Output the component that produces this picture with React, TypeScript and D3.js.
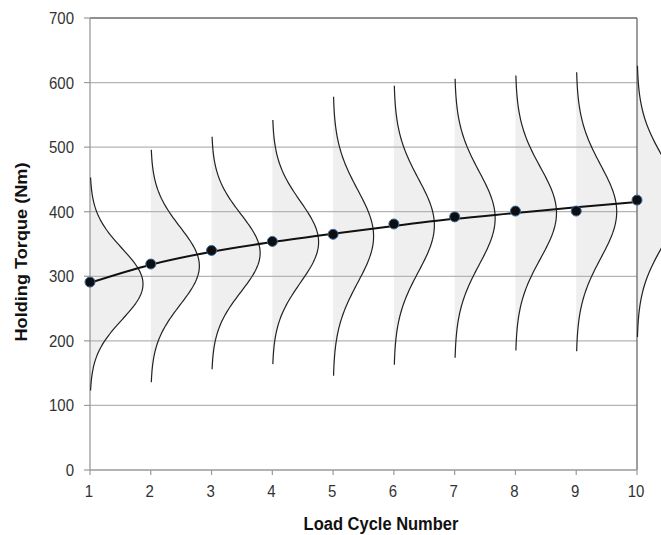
import React from "react";
import * as d3 from "d3";

const cycles = [1, 2, 3, 4, 5, 6, 7, 8, 9, 10];
const measured = [291, 319, 340, 354, 365, 381, 392, 401, 401, 418];
const trend = [290, 318, 338, 353, 366, 378, 389, 398, 407, 415];
const distMean = [288, 316, 336, 353, 362, 379, 390, 398, 400, 416];
const distSigma = [55, 60, 60, 63, 72, 72, 72, 71, 72, 70];
const yTicks = [0, 100, 200, 300, 400, 500, 600, 700];
const xTicks = [1, 2, 3, 4, 5, 6, 7, 8, 9, 10];

const W = 661, H = 535;
const M = { left: 90, right: 637, top: 18, bottom: 470 };

export default function App() {
  const x = d3.scaleLinear().domain([1, 10]).range([M.left, M.right]);
  const y = d3.scaleLinear().domain([0, 700]).range([M.bottom, M.top]);
  const K = 2915; // px * value-units scale of each density
  const font = "Liberation Sans, Arial, sans-serif";

  const dists = cycles.map((c, i) => {
    const mu = distMean[i], s = distSigma[i];
    const amp = K / s;
    const vals = d3.range(-3, 3.0001, 0.05).map((z) => mu + z * s);
    const pts = vals.map((v) => ({
      v,
      w: amp * Math.exp(-((v - mu) ** 2) / (2 * s * s)),
    }));
    const area = d3
      .area<{ v: number; w: number }>()
      .y((d) => y(d.v))
      .x0(() => x(c))
      .x1((d) => x(c) + d.w)(pts);
    const line = d3
      .line<{ v: number; w: number }>()
      .y((d) => y(d.v))
      .x((d) => x(c) + d.w)(pts);
    return { area, line };
  });

  const trendPath = d3
    .line<number>()
    .x((_, i) => x(cycles[i]))
    .y((d) => y(d))
    .curve(d3.curveMonotoneX)(trend);

  return (
    <div style={{ position: "absolute", left: 0, top: 0 }}>
      <svg width={W} height={H} style={{ display: "block", background: "#fff" }}>
        {dists.map((d, i) => (
          <path key={"a" + i} d={d.area || ""} fill="#efefef" stroke="none" />
        ))}
        {yTicks.filter((t) => t > 0 && t < 700).map((t) => (
          <line key={"g" + t} x1={M.left} x2={M.right} y1={y(t)} y2={y(t)} stroke="#b4b4b4" strokeWidth={1.2} />
        ))}
        <line x1={M.left} x2={M.right} y1={M.top} y2={M.top} stroke="#6a6a6a" strokeWidth={1.3} />
        <line x1={M.right} x2={M.right} y1={M.top} y2={M.bottom} stroke="#6a6a6a" strokeWidth={1.3} />
        <line x1={M.left} x2={M.left} y1={M.top} y2={M.bottom} stroke="#9a9a9a" strokeWidth={1.3} />
        <line x1={M.left} x2={M.right} y1={M.bottom} y2={M.bottom} stroke="#9a9a9a" strokeWidth={1.3} />
        {yTicks.map((t) => (
          <g key={"yt" + t}>
            <line x1={M.left - 6} x2={M.left} y1={y(t)} y2={y(t)} stroke="#9a9a9a" strokeWidth={1.2} />
            <text
              transform={`translate(${M.left - 16},${y(t) + 6}) scale(1,1.1)`}
              textAnchor="end"
              fontFamily={font}
              fontSize={15}
              fill="#333"
            >
              {t}
            </text>
          </g>
        ))}
        {xTicks.map((t) => (
          <g key={"xt" + t}>
            <line x1={x(t)} x2={x(t)} y1={M.bottom} y2={M.bottom + 5} stroke="#9a9a9a" strokeWidth={1.2} />
            <text
              transform={`translate(${x(t) - 1},${M.bottom + 27}) scale(1,1.1)`}
              textAnchor="middle"
              fontFamily={font}
              fontSize={15}
              fill="#333"
            >
              {t}
            </text>
          </g>
        ))}
        {dists.map((d, i) => (
          <path key={"l" + i} d={d.line || ""} fill="none" stroke="#222" strokeWidth={1.2} />
        ))}
        <path d={trendPath || ""} fill="none" stroke="#111" strokeWidth={2} />
        {measured.map((v, i) => (
          <circle key={"p" + i} cx={x(cycles[i])} cy={y(v)} r={5} fill="#0d0d12" stroke="#3b6a9a" strokeWidth={1} />
        ))}
        <text
          transform={`translate(27,252) scale(1,1.1) rotate(-90)`}
          textAnchor="middle"
          fontFamily={font}
          fontSize={16.5}
          fontWeight="bold"
          fill="#111"
        >
          Holding Torque (Nm)
        </text>
        <text
          transform={`translate(${(303 + 459) / 2},530) scale(1,1.1)`}
          textAnchor="middle"
          fontFamily={font}
          fontSize={16.5}
          fontWeight="bold"
          fill="#111"
        >
          Load Cycle Number
        </text>
      </svg>
    </div>
  );
}
